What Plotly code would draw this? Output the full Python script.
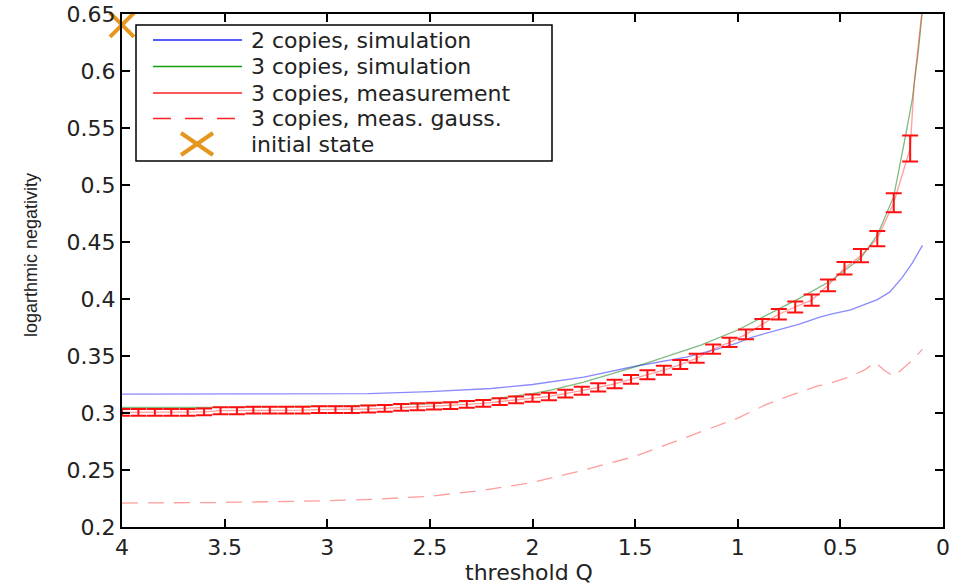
import plotly.graph_objects as go

# ---------------- data ----------------
x_tick_vals = [4, 3.5, 3, 2.5, 2, 1.5, 1, 0.5, 0]
x_tick_text = ["4", "3.5", "3", "2.5", "2", "1.5", "1", "0.5", "0"]
y_tick_vals = [0.2, 0.25, 0.3, 0.35, 0.4, 0.45, 0.5, 0.55, 0.6, 0.65]
y_tick_text = ["0.2", "0.25", "0.3", "0.35", "0.4", "0.45", "0.5", "0.55", "0.6", "0.65"]

# 2 copies, simulation
q_sim2 = [4.0, 3.5, 3.0, 2.8, 2.5, 2.2, 2.0, 1.75, 1.5, 1.25, 1.1, 1.0, 0.94, 0.8, 0.7,
          0.6, 0.54, 0.45, 0.32, 0.26, 0.2, 0.15, 0.1]
v_sim2 = [0.3165, 0.3165, 0.3167, 0.317, 0.3187, 0.3215, 0.325, 0.3315, 0.341, 0.349, 0.356,
          0.3615, 0.366, 0.3728, 0.378, 0.384, 0.387, 0.3905, 0.3995, 0.406, 0.4185, 0.4315, 0.447]

# 3 copies, simulation
q_sim3 = [4.0, 3.5, 3.0, 2.5, 2.25, 2.0, 1.9, 1.75, 1.5, 1.25, 1.18, 1.0, 0.86, 0.7, 0.54,
          0.4, 0.32, 0.24, 0.18, 0.15, 0.12, 0.1, 0.085]
v_sim3 = [0.305, 0.305, 0.306, 0.308, 0.311, 0.317, 0.3205, 0.327, 0.3405, 0.3555, 0.3595,
          0.3728, 0.386, 0.4006, 0.4167, 0.436, 0.456, 0.49, 0.5456, 0.5746, 0.618, 0.65, 0.68]

# 3 copies, measurement (points with error bars)
q_meas = [4.00, 3.92, 3.84, 3.76, 3.68, 3.60, 3.52, 3.44, 3.36, 3.28, 3.20, 3.12, 3.04,
          2.96, 2.88, 2.80, 2.72, 2.64, 2.56, 2.48, 2.40, 2.32, 2.24, 2.16, 2.08, 2.00,
          1.92, 1.84, 1.76, 1.68, 1.60, 1.52, 1.44, 1.36, 1.28, 1.20, 1.12, 1.04, 0.96,
          0.88, 0.80, 0.72, 0.64, 0.56, 0.48, 0.40, 0.32, 0.24, 0.16]
v_meas = [0.3005, 0.3005, 0.3005, 0.3005, 0.3005, 0.301, 0.302, 0.302, 0.3025, 0.3025,
          0.3025, 0.3025, 0.303, 0.303, 0.303, 0.3035, 0.304, 0.305, 0.3055, 0.306, 0.3065,
          0.3075, 0.3085, 0.310, 0.3115, 0.313, 0.3145, 0.317, 0.3195, 0.3225, 0.3255,
          0.3295, 0.3335, 0.3375, 0.3425, 0.348, 0.356, 0.362, 0.369, 0.378, 0.3866,
          0.393, 0.399, 0.412, 0.427, 0.438, 0.453, 0.4845, 0.532]
e_meas = [0.003, 0.003, 0.003, 0.003, 0.003, 0.003, 0.003, 0.003, 0.003, 0.003, 0.003,
          0.003, 0.003, 0.003, 0.003, 0.003, 0.003, 0.003, 0.003, 0.003, 0.003, 0.003,
          0.003, 0.003, 0.003, 0.0032, 0.0033, 0.0034, 0.0035, 0.0036, 0.0037, 0.0038,
          0.0039, 0.004, 0.004, 0.004, 0.004, 0.004, 0.0042, 0.0044, 0.0046, 0.0048,
          0.005, 0.0051, 0.0054, 0.0058, 0.0067, 0.0083, 0.0114]
# continuation of the measurement curve beyond the last error bar
q_meas_tail = [0.16, 0.14, 0.12, 0.10, 0.08]
v_meas_tail = [0.532, 0.59, 0.625, 0.655, 0.69]

# 3 copies, meas. gauss.
q_gauss = [4.0, 3.5, 3.0, 2.75, 2.5, 2.25, 2.0, 1.75, 1.5, 1.25, 1.0, 0.86, 0.75, 0.61,
           0.55, 0.45, 0.38, 0.33, 0.29, 0.24, 0.2, 0.15, 0.1]
v_gauss = [0.221, 0.2215, 0.223, 0.2245, 0.227, 0.232, 0.239, 0.25, 0.262, 0.279, 0.2955,
           0.3075, 0.315, 0.3237, 0.326, 0.332, 0.338, 0.3445, 0.338, 0.332, 0.338, 0.346, 0.356]

# initial state
q_init = [4.0]
v_init = [0.6405]

legend_labels = ["2 copies, simulation", "3 copies, simulation", "3 copies, measurement",
                 "3 copies, meas. gauss.", "initial state"]

# ---------------- figure ----------------
W, H = 965, 585
# plot area in page pixels
L, R, T, B = 122, 943, 14, 527


def px(x):
    return (x - L) / (R - L)


def py(y):
    return (B - y) / (B - T)


ORANGE = "#E6961E"
fig = go.Figure()

fig.add_trace(go.Scatter(x=q_sim2, y=v_sim2, mode="lines",
                         line=dict(color="rgba(40,40,255,0.55)", width=1.3), showlegend=False))
fig.add_trace(go.Scatter(x=q_sim3, y=v_sim3, mode="lines",
                         line=dict(color="rgba(0,120,0,0.5)", width=1.3), showlegend=False))
fig.add_trace(go.Scatter(x=q_gauss, y=v_gauss, mode="lines",
                         line=dict(color="rgba(255,60,60,0.5)", width=1.3, dash="16px,10px"),
                         showlegend=False))
fig.add_trace(go.Scatter(x=q_meas + q_meas_tail[1:], y=v_meas + v_meas_tail[1:], mode="lines",
                         line=dict(color="rgba(255,40,40,0.45)", width=1.3), showlegend=False))
fig.add_trace(go.Scatter(x=q_meas, y=v_meas, mode="markers",
                         marker=dict(size=1, color="rgba(0,0,0,0)"),
                         error_y=dict(type="data", array=e_meas, visible=True,
                                      color="#FF1010", thickness=2, width=8),
                         showlegend=False))
fig.add_trace(go.Scatter(x=q_init, y=v_init, mode="markers", cliponaxis=False,
                         marker=dict(symbol="x-thin", size=24,
                                     line=dict(color=ORANGE, width=4)),
                         showlegend=False))

# ---------------- custom legend ----------------
shapes = []
annotations = []
shapes.append(dict(type="rect", xref="paper", yref="paper",
                   x0=px(136), x1=px(552), y0=py(161), y1=py(25),
                   line=dict(color="black", width=1.5), fillcolor="white", layer="above"))
row_y = [40, 66.5, 93, 118.5, 144]
leg_styles = [("#2020FF", "solid"), ("#10A010", "solid"), ("#FF2020", "solid"),
              ("#FF2020", "18px,14px")]
for i, (col, dsh) in enumerate(leg_styles):
    shapes.append(dict(type="line", xref="paper", yref="paper",
                       x0=px(153), x1=px(242), y0=py(row_y[i]), y1=py(row_y[i]),
                       line=dict(color=col, width=1.6, dash=dsh), layer="above"))
# X symbol for "initial state"
shapes.append(dict(type="line", xref="paper", yref="paper", x0=px(181), x1=px(213),
                   y0=py(row_y[4] - 11), y1=py(row_y[4] + 11),
                   line=dict(color=ORANGE, width=4), layer="above"))
shapes.append(dict(type="line", xref="paper", yref="paper", x0=px(181), x1=px(213),
                   y0=py(row_y[4] + 11), y1=py(row_y[4] - 11),
                   line=dict(color=ORANGE, width=4), layer="above"))
for i, lab in enumerate(legend_labels):
    annotations.append(dict(xref="paper", yref="paper", x=px(249), y=py(row_y[i]),
                            xanchor="left", yanchor="middle", showarrow=False, text=lab,
                            font=dict(family="DejaVu Sans", size=22, color="#222")))

# axis titles
annotations.append(dict(xref="paper", yref="paper", x=px(31), y=py(255),
                        xanchor="center", yanchor="middle", showarrow=False,
                        text="logarthmic negativity", textangle=-90,
                        font=dict(family="Liberation Sans", size=18, color="#222")))
annotations.append(dict(xref="paper", yref="paper", x=px(529), y=py(572),
                        xanchor="center", yanchor="middle", showarrow=False,
                        text="threshold Q",
                        font=dict(family="DejaVu Sans", size=22, color="#222")))

axis_common = dict(showline=True, linecolor="black", linewidth=2, mirror="allticks",
                   ticks="inside", ticklen=8, tickwidth=2, tickcolor="black",
                   showgrid=False, zeroline=False, ticklabeloverflow="allow",
                   tickfont=dict(family="DejaVu Sans", size=22, color="#222"))

fig.update_layout(
    width=W, height=H,
    margin=dict(l=L, r=W - R, t=T, b=H - B, autoexpand=False),
    paper_bgcolor="white", plot_bgcolor="white",
    xaxis=dict(range=[4, 0], tickvals=x_tick_vals, ticktext=x_tick_text, **axis_common),
    yaxis=dict(range=[0.2, 0.65], tickvals=y_tick_vals, ticktext=y_tick_text, **axis_common),
    shapes=shapes, annotations=annotations, showlegend=False,
)

# remove the default 8px page margin so the figure fills the window exactly
fig.write_html("out.html", config={"displayModeBar": False},
               post_script="document.body.style.margin='0px';document.body.style.overflow='hidden';")
